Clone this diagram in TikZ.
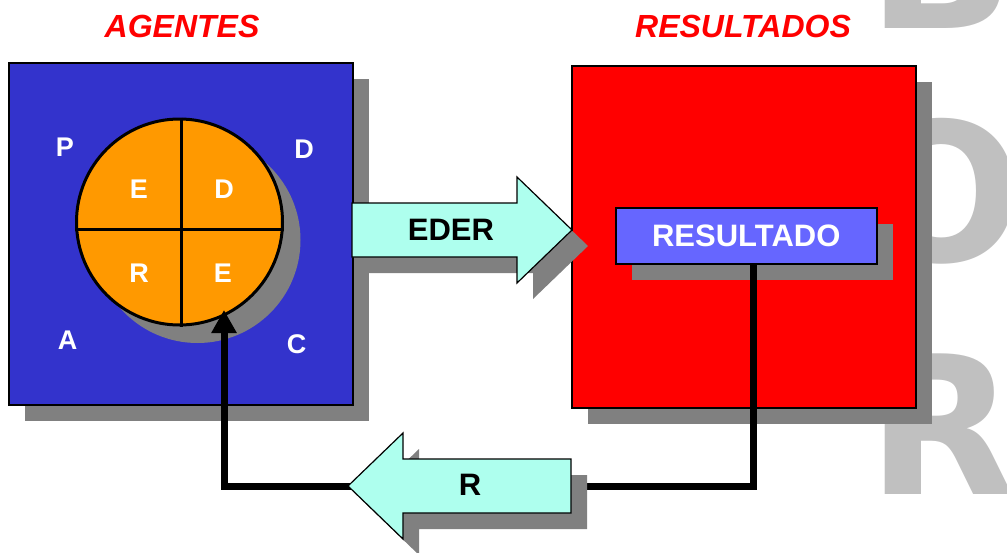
\documentclass[tikz,border=0pt]{standalone}
\usepackage{fontspec}
\setmainfont{Liberation Sans}
\newfontfamily\bigletfont{DejaVu Sans}
\usetikzlibrary{shadows,arrows.meta}
\definecolor{agblue}{RGB}{51,51,204}
\definecolor{resred}{RGB}{255,0,0}
\definecolor{resblue}{RGB}{102,102,255}
\definecolor{orangefill}{RGB}{255,153,0}
\definecolor{mint}{RGB}{174,255,238}
\definecolor{shadowgray}{RGB}{128,128,128}
\definecolor{lettergray}{RGB}{192,192,192}
\tikzset{
  sh/.style={drop shadow={shadow xshift=16pt, shadow yshift=-16pt, opacity=1, fill=shadowgray}},
  bigbox/.style={draw=black, line width=1.5pt, minimum width=344pt, minimum height=342pt, anchor=north west, inner sep=0pt, sh},
  title/.style={text=resred, font=\bfseries\itshape\fontsize{32}{32}\selectfont, anchor=base, inner sep=0pt},
  wlab/.style={text=white, font=\bfseries\fontsize{27}{27}\selectfont, anchor=base, inner sep=0pt},
  blab/.style={text=black, font=\bfseries\fontsize{31}{31}\selectfont, anchor=base, inner sep=0pt},
  biglet/.style={text=lettergray, font=\bigletfont\bfseries\fontsize{193}{193}\selectfont, anchor=base, inner sep=0pt},
  blockarrow/.style={draw=black, line width=1.2pt, fill=mint, line join=miter, sh},
  feedback/.style={line width=7pt, line join=miter, -{Triangle[length=23pt,width=24pt]}}
}
\begin{document}
\begin{tikzpicture}[x=1pt,y=-1pt]
\useasboundingbox (0,0) rectangle (1007,552);
\clip (0,0) rectangle (1007,552);
% background letters
\node[biglet] (lb) at (941.5,28) {B};
\node[biglet] (lo) at (941.5,261) {O};
\node[biglet] (lr) at (941.5,494) {R};
% titles
\node[title] (tag) at (182,37) {AGENTES};
\node[title] (tres) at (743,37) {RESULTADOS};
% boxes
\node[bigbox, fill=agblue] (ag) at (8,62) {};
\node[bigbox, fill=resred] (rs) at (571,65) {};
% circle
\node[circle, draw=black, line width=3pt, fill=orangefill, minimum size=206pt, inner sep=0pt,
      drop shadow={shadow xshift=18pt, shadow yshift=-18pt, opacity=1, fill=shadowgray}] (circ) at (179.5,222) {};
\draw[line width=3pt] ([xshift=1.5pt]circ.north) -- ([xshift=1.5pt]circ.south);
\draw[line width=3pt] ([yshift=-7pt]circ.west) -- ([yshift=-7pt]circ.east);
\node[wlab] (q1) at (139,198) {E};
\node[wlab] (q2) at (224,198) {D};
\node[wlab] (q3) at (139,282) {R};
\node[wlab] (q4) at (223,282) {E};
% corner letters
\node[wlab] (cp) at (65,156) {P};
\node[wlab] (cd) at (304,158) {D};
\node[wlab] (ca) at (67.5,349) {A};
\node[wlab] (cc) at (296.5,353) {C};
% resultado box
\node[draw=black, line width=1.5pt, fill=resblue, minimum width=261pt, minimum height=56pt, anchor=north west, inner sep=0pt, sh,
      text=white, font=\bfseries\fontsize{31}{31}\selectfont] (res) at (615,207) {RESULTADO};
% feedback line
\coordinate (ltop) at (753,263);
\coordinate (lcorner1) at (753,486);
\coordinate (lcorner2) at (224,486);
\coordinate (ltip) at (224,310);
\draw[feedback] (ltop) -- (lcorner1) -- (lcorner2) -- (ltip);
% EDER block arrow
\draw[blockarrow] (352,203) -- (517,203) -- (517,177) -- (572,230) -- (517,283) -- (517,257) -- (352,257) -- cycle;
\node[blab] (eder) at (451,240) {EDER};
% R block arrow
\draw[blockarrow] (571,459) -- (403,459) -- (403,433) -- (348,486) -- (403,539) -- (403,513) -- (571,513) -- cycle;
\node[blab] (rlab) at (470,495) {R};
\end{tikzpicture}
\end{document}
